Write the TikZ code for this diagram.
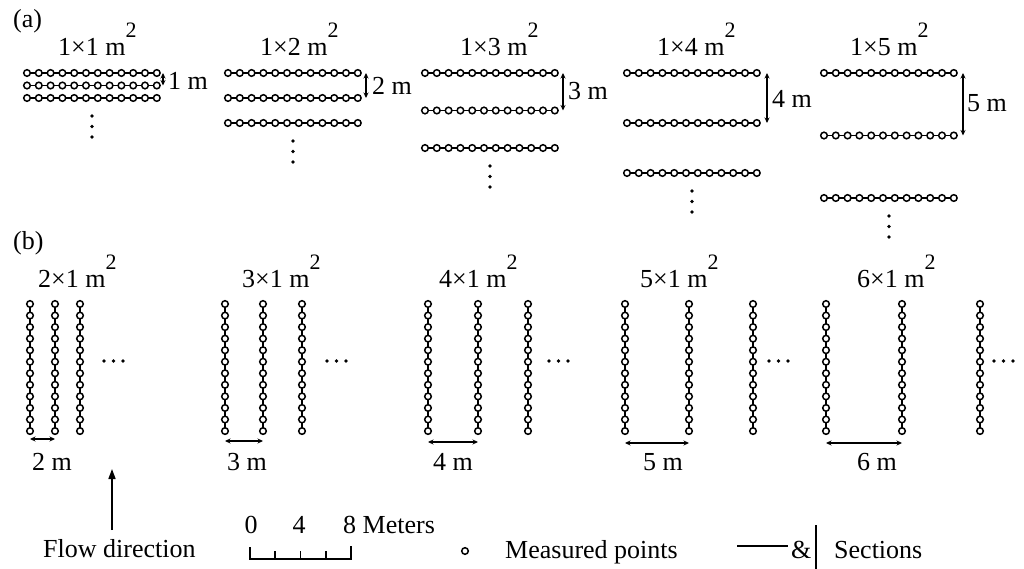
\documentclass[tikz,border=0pt]{standalone}
\usepackage{fontspec}
\setmainfont{Liberation Serif}
\usetikzlibrary{arrows.meta}
\newcommand{\sqm}{m\raisebox{18pt}{\fontsize{22}{22}\selectfont 2}}
\begin{document}
\begin{tikzpicture}[x=1pt,y=-1pt,
  mp/.style={circle,draw,fill=white,line width=1.5pt,minimum size=6.6pt,inner sep=0pt,outer sep=0pt},
  conn/.style={line width=1.5pt},
  dim/.style={line width=1.6pt,{Stealth[length=5.5pt,width=5pt]}-{Stealth[length=5.5pt,width=5pt]}},
  lbl/.style={inner sep=0pt,anchor=base west,font=\fontsize{26}{30}\selectfont},
  dotm/.style={circle,fill,inner sep=0pt,minimum size=3.6pt},
  bar/.style={line width=1.6pt}]
\useasboundingbox (0,0) rectangle (1024,569);

% ---------- (a) ----------
\node[lbl] (la) at (13,28) {(a)};
\foreach \g/\xl/\gap/\ax/\tx/\lx/\ly in {1/27/12.5/163/58/168/90, 2/228/25/366/260/372/95, 3/425/37.5/563/460/568/100, 4/627/50/767/657/772/108, 5/824/62.5/963/850/967/112} {
  \foreach \r in {0,1,2} {
    \foreach \c in {0,...,11} {
      \node[mp] (a\g-\r-\c) at ({\xl+\c*11.8},{73+\r*\gap}) {};
    }
    \foreach \c [evaluate=\c as \n using int(\c+1)] in {0,...,10} {
      \draw[conn] (a\g-\r-\c) -- (a\g-\r-\n);
    }
  }
  \node[lbl] (at\g) at (\tx,56) {1×\g\ \sqm};
  \coordinate (aat\g) at (\ax,73);
  \coordinate (aab\g) at (\ax,{73+\gap});
  \draw[dim] (aat\g) -- (aab\g);
  \node[lbl] (al\g) at (\lx,\ly) {\g\ m};
  \foreach \d in {0,1,2} {
    \node[dotm] (av\g-\d) at ({\xl+65},{73+2*\gap+18+\d*10.5}) {};
  }
}

% ---------- (b) ----------
\node[lbl] (lb) at (13,249) {(b)};
\foreach \g/\xa/\xb/\xc/\ay/\tx/\lx/\ex/\w in {1/30/55/80/439/38/32/104/2, 2/225/263/302/441/242/227/327/3, 3/428/478/528/442/439/433/549/4, 4/625/689/753/443/640/643/769/5, 5/826/902/980/443/857/857/994/6} {
  \foreach \k/\xx in {1/\xa,2/\xb,3/\xc} {
    \foreach \c in {0,...,11} {
      \node[mp] (b\g-\k-\c) at (\xx,{304+\c*11.55}) {};
    }
    \foreach \c [evaluate=\c as \n using int(\c+1)] in {0,...,10} {
      \draw[conn] (b\g-\k-\c) -- (b\g-\k-\n);
    }
  }
  \node[lbl] (bt\g) at (\tx,287) {\w×1 \sqm};
  \coordinate (bal\g) at (\xa,\ay);
  \coordinate (bar\g) at (\xb,\ay);
  \draw[dim] (bal\g) -- (bar\g);
  \node[lbl] (bl\g) at (\lx,470) {\w\ m};
  \foreach \d in {0,1,2} {
    \node[dotm] (bh\g-\d) at ({\ex+\d*9.5},361) {};
  }
}

% ---------- legend ----------
\coordinate (fb) at (112,530);
\coordinate (ft) at (112,469);
\draw[line width=1.6pt,-{Triangle[length=10pt,width=7pt]}] (fb) -- (ft);
\node[lbl] (flow) at (43,557) {Flow direction};

\coordinate (s0) at (250,559);
\coordinate (s8) at (351,559);
\draw[bar] (250,547) -- (s0) -- (s8) -- (351,546);
\foreach \t in {1,2,3} {
  \coordinate (st\t) at ({250+\t*25.25},559);
  \draw[bar] (st\t) -- ++(0,-8);
}
\node[lbl,anchor=base] (n0) at (251,533) {0};
\node[lbl,anchor=base] (n4) at (299,533) {4};
\node[lbl] (n8) at (343,533) {8 Meters};

\node[mp] (lp) at (465,551) {};
\node[lbl] (lpt) at (505,558) {Measured points};

\coordinate (sl1) at (737,546);
\coordinate (sl2) at (788,546);
\draw[bar] (sl1) -- (sl2);
\node[lbl] (amp) at (791,558) {\&};
\coordinate (sv1) at (816,525);
\coordinate (sv2) at (816,569);
\draw[bar] (sv1) -- (sv2);
\node[lbl] (sect) at (834,558) {Sections};
\end{tikzpicture}
\end{document}
